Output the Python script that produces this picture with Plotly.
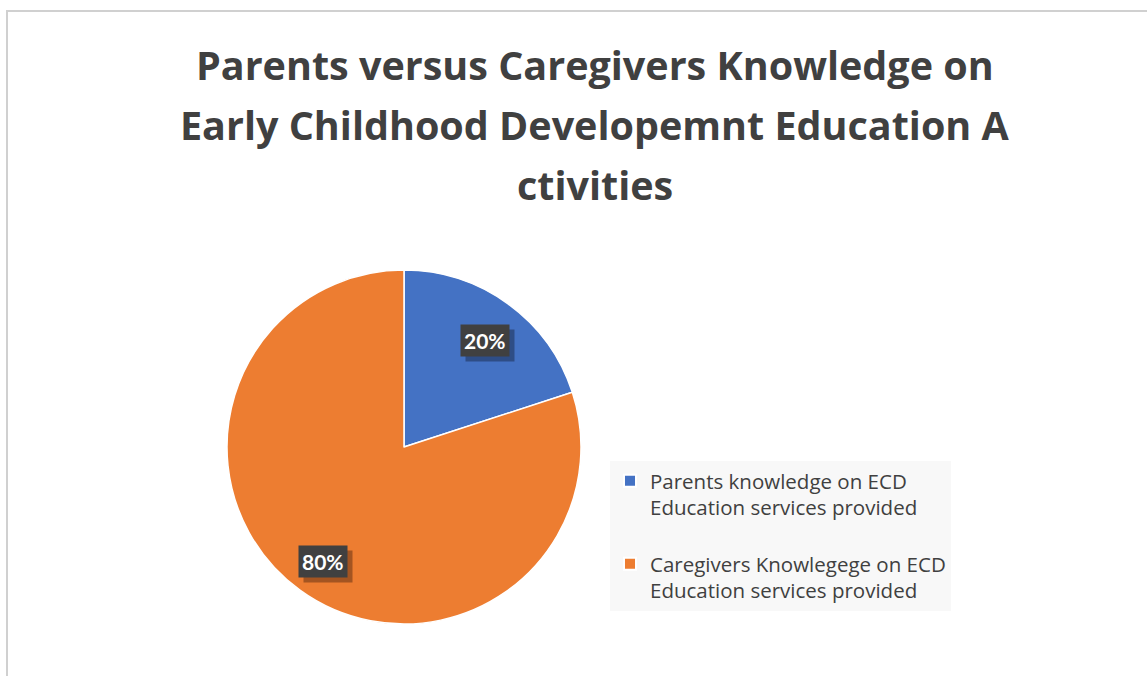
import math
import plotly.graph_objects as go

labels = ["Parents knowledge on ECD<br>Education services provided<br> ",
          "Caregivers Knowlegege on ECD<br>Education services provided"]
values = [20, 80]
colors = ["#4472C4", "#ED7D31"]
shadow_colors = ["#2E4D86", "#A35421"]
title_lines = ["Parents versus Caregivers Knowledge on",
               "Early Childhood Developemnt Education A",
               "ctivities"]

W, H = 1147, 676
cx_px, cy_px, r_px = 404, 447, 177

fig = go.Figure()
fig.add_trace(go.Pie(
    labels=labels, values=values, sort=False, direction="clockwise", rotation=0,
    marker=dict(colors=colors, line=dict(color="white", width=1.5)),
    textinfo="none", hoverinfo="percent",
    domain=dict(x=[(cx_px - r_px) / W, (cx_px + r_px) / W],
                y=[1 - (cy_px + r_px) / H, 1 - (cy_px - r_px) / H]),
))

# percentage labels placed along each slice's mid-angle
total = sum(values)
cum = 0
annotations = []
for v, sc in zip(values, shadow_colors):
    mid = (cum + v / 2) / total * 2 * math.pi
    cum += v
    px = cx_px + 0.775 * r_px * math.sin(mid)
    py = cy_px - 0.775 * r_px * math.cos(mid) + 4
    txt = f"<b>{round(v / total * 100)}%</b>"
    common = dict(x=px / W, y=1 - py / H, xref="paper", yref="paper",
                  xanchor="center", yanchor="middle",
                  showarrow=False, borderpad=3)
    annotations.append(dict(text=txt, bgcolor=sc, xshift=5, yshift=-5,
                            font=dict(family="Lato", size=21, color=sc), **common))
    annotations.append(dict(text=txt, bgcolor="#404040",
                            font=dict(family="Lato", size=21, color="white"), **common))

for i, line in enumerate(title_lines):
    annotations.append(dict(text=f"<b>{line}</b>", x=595 / W, y=1 - (65 + 60 * i) / H,
                            xref="paper", yref="paper", showarrow=False,
                            xanchor="center", yanchor="middle",
                            font=dict(family="Open Sans", size=39.5, color="#404040")))

fig.update_layout(
    width=W, height=H,
    margin=dict(l=0, r=0, t=0, b=0),
    paper_bgcolor="white", plot_bgcolor="white",
    annotations=annotations,
    showlegend=True,
    legend=dict(x=610 / W, y=1 - 461 / H, xanchor="left", yanchor="top",
                bgcolor="#F8F8F8", valign="top",
                font=dict(family="Open Sans", size=20.5, color="#404040"),
                itemsizing="constant"),
    shapes=[dict(type="rect", xref="paper", yref="paper",
                 x0=7 / W, x1=1.02, y0=-0.02, y1=1 - 11 / H,
                 line=dict(color="#D0D0D0", width=2), layer="below")],
)

fig.write_html("out.html")
